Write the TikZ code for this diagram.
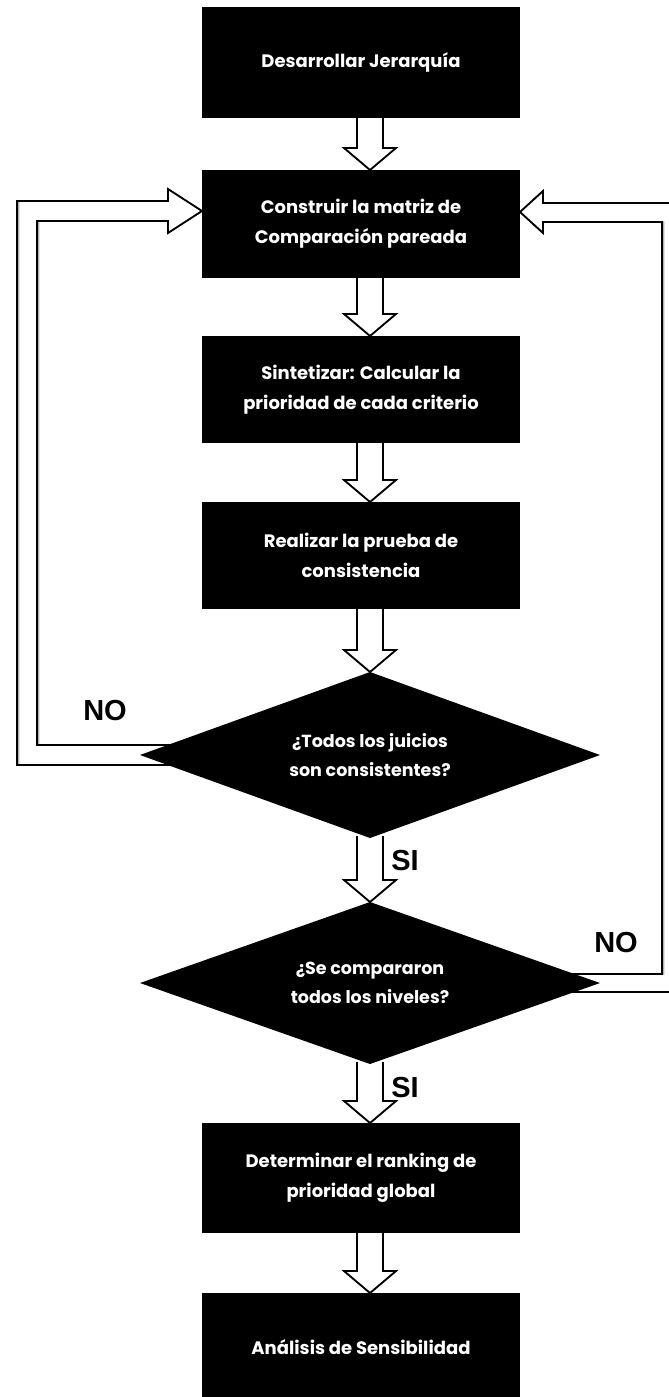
\documentclass[tikz,border=0pt]{standalone}
\usepackage{fontspec}
\newfontfamily\boxfont{Poppins}
\newfontfamily\tagfont{Liberation Sans}
\usetikzlibrary{shapes.geometric,calc}
\pgfdeclarelayer{back}
\pgfsetlayers{back,main}
\tikzset{
  stepbox/.style={fill=black, text=white, minimum width=318pt, align=center,
    inner sep=0pt, outer sep=0pt,
    font=\boxfont\bfseries\fontsize{18}{30}\selectfont},
  choice/.style={diamond, fill=black, text=white, align=center,
    inner sep=0pt, outer sep=0pt, shape aspect=2.8, minimum width=460pt,
    font=\boxfont\bfseries\fontsize{17.5}{29}\selectfont},
  tag/.style={font=\tagfont\bfseries\fontsize{29}{30}\selectfont,
    text=black, inner sep=0pt},
  flowfill/.style={fill=white},
  flowshade/.style={draw=black!30, line width=1.6pt, xshift=1.5pt, yshift=-1.5pt},
  flowline/.style={draw=black, line width=1.8pt, line join=miter, line cap=butt},
}
% hollow block arrow straight down the flow axis, from #1 to #2
\newcommand\downflow[2]{%
  \foreach \sty in {flowfill,flowshade,flowline}{%
    \path[\sty] let \p0=(axis), \p1=(#1), \p2=(#2) in
      (\x0-13pt,\y1+2pt) -- (\x0-13pt,\y2+22pt) -- (\x0-26pt,\y2+22pt)
      -- (\x0,\y2) -- (\x0+26pt,\y2+22pt) -- (\x0+13pt,\y2+22pt)
      -- (\x0+13pt,\y1+2pt);
  }%
}
\begin{document}
\begin{tikzpicture}[x=1pt,y=-1pt]
\useasboundingbox (0,0) rectangle (669,1397);
\clip (0,0) rectangle (669,1397);
\coordinate (axis) at (370,0);

% process steps and decisions
\node[stepbox, minimum height=111pt] (b1) at (361,62.5) {Desarrollar Jerarquía};
\node[stepbox, minimum height=108pt] (b2) at (361,224) {Construir la matriz de\\Comparación pareada};
\node[stepbox, minimum height=107pt] (b3) at (361,389.5) {Sintetizar: Calcular la\\prioridad de cada criterio};
\node[stepbox, minimum height=107pt] (b4) at (361,555.5) {Realizar la prueba de\\consistencia};
\node[choice, minimum height=166pt] (d1) at (370,755) {¿Todos los juicios\\son consistentes?};
\node[choice, minimum height=162pt] (d2) at (370,983) {¿Se compararon\\todos los niveles?};
\node[stepbox, minimum height=110pt] (b5) at (361,1178) {Determinar el ranking de\\prioridad global};
\node[stepbox, minimum height=108pt] (b6) at (361,1347) {Análisis de Sensibilidad};

% branch labels
\node[tag] (no1) at (105,711) {NO};
\node[tag] (si1) at (405,861) {SI};
\node[tag] (no2) at (616,943) {NO};
\node[tag] (si2) at (405,1088) {SI};

\begin{pgfonlayer}{back}
  \downflow{b1.south}{b2.north}
  \downflow{b2.south}{b3.north}
  \downflow{b3.south}{b4.north}
  \downflow{b4.south}{d1.north}
  \downflow{d1.south}{d2.north}
  \downflow{d2.south}{b5.north}
  \downflow{b5.south}{b6.north}
  % loop back on the left: inconsistent judgements
  \foreach \sty in {flowfill,flowshade,flowline}{
    \path[\sty] let \p1=(d1.center), \p2=(b2.west) in
      (\x1-170pt,\y1-10pt) -- (17pt,\y1-10pt) -- (17pt,\y2+23pt)
      -- (\x2-34pt,\y2+23pt) -- (\x2-34pt,\y2+35pt) -- (\x2,\y2+13pt)
      -- (\x2-34pt,\y2-9pt) -- (\x2-34pt,\y2+3pt) -- (37pt,\y2+3pt)
      -- (37pt,\y1+10pt) -- (\x1-170pt,\y1+10pt);
  }
  % loop back on the right: levels still to compare
  \foreach \sty in {flowfill,flowshade,flowline}{
    \path[\sty] let \p1=(d2.center), \p2=(b2.east) in
      (\x1+190pt,\y1+9pt) -- (662pt,\y1+9pt) -- (662pt,\y2+2pt)
      -- (\x2+23pt,\y2+2pt) -- (\x2+23pt,\y2-9pt) -- (\x2,\y2+12pt)
      -- (\x2+23pt,\y2+33pt) -- (\x2+23pt,\y2+21pt) -- (682pt,\y2+21pt)
      -- (682pt,\y1-9pt) -- (\x1+190pt,\y1-9pt);
  }
\end{pgfonlayer}
\end{tikzpicture}
\end{document}
